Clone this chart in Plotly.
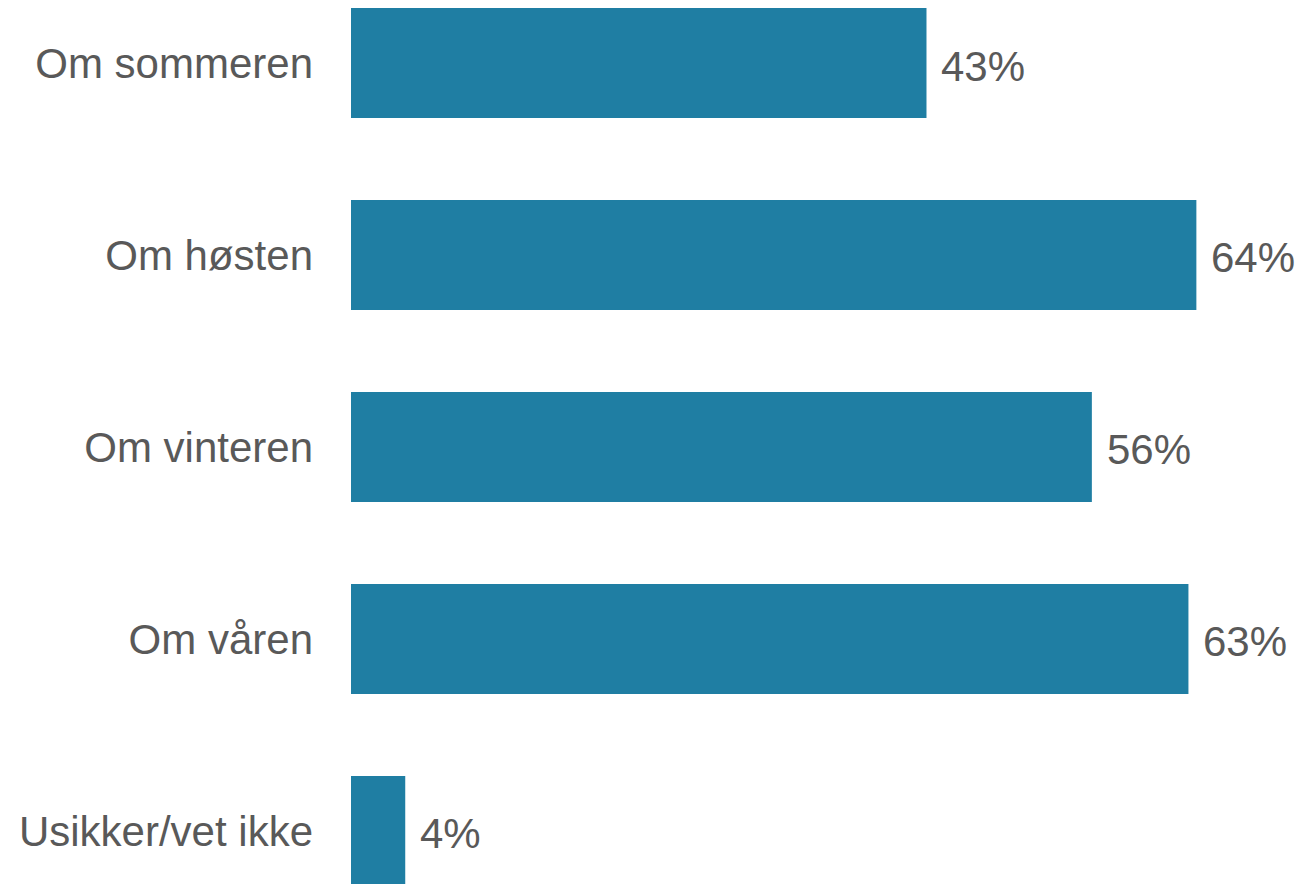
import plotly.graph_objects as go

categories = ["Om sommeren", "Om høsten", "Om vinteren", "Om våren", "Usikker/vet ikke"]
values = [43.5, 63.9, 56.0, 63.3, 4.1]
value_labels = ["43%", "64%", "56%", "63%", "4%"]

BAR_COLOR = "#1F7EA3"
TEXT_COLOR = "#595959"
FONT = "Liberation Sans, Arial, sans-serif"

fig = go.Figure()
fig.add_trace(go.Bar(
    x=values, y=categories, orientation="h",
    marker=dict(color=BAR_COLOR, line=dict(width=0)),
    hoverinfo="skip",
))

for c, v, t in zip(categories, values, value_labels):
    fig.add_annotation(x=v, y=c, xref="x", yref="y", text=t, showarrow=False,
                       xanchor="left", yanchor="middle", xshift=13, yshift=-3,
                       font=dict(family=FONT, size=42, color=TEXT_COLOR))

fig.update_layout(
    width=1304, height=884,
    margin=dict(l=343, r=0, t=0, b=0),
    paper_bgcolor="white", plot_bgcolor="white",
    bargap=0.427, showlegend=False,
    font=dict(family=FONT, size=42, color=TEXT_COLOR),
)
fig.update_xaxes(visible=False, range=[0, 72.64], fixedrange=True)
fig.update_yaxes(
    type="category", categoryorder="array", categoryarray=categories,
    range=[4.318, -0.2865], showgrid=False, showline=False, zeroline=False,
    ticks="", ticklabelstandoff=37,
    tickfont=dict(family=FONT, size=42, color=TEXT_COLOR), automargin=False,
)

fig.write_html("out.html", config={"displayModeBar": False})
